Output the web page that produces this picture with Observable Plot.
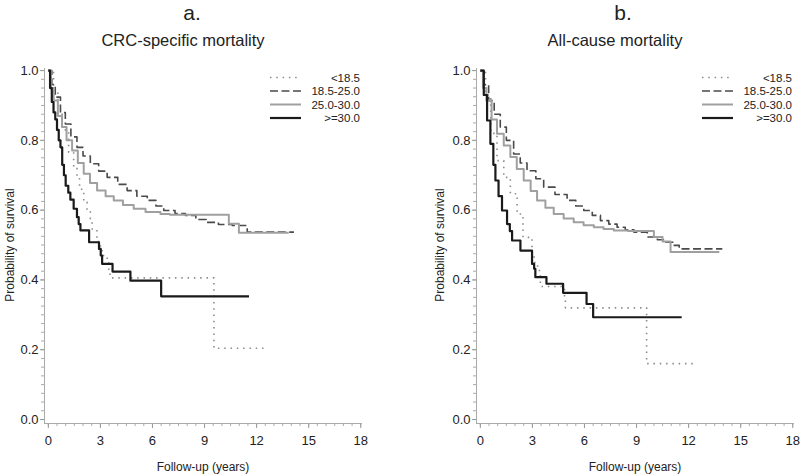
<!DOCTYPE html>
<html>
<head>
<meta charset="utf-8">
<script src="https://cdn.jsdelivr.net/npm/d3@7"></script>
<script src="https://cdn.jsdelivr.net/npm/@observablehq/plot@0.6"></script>
<style>
  body { margin: 0; background: #fff; }
  #root { position: relative; width: 800px; height: 475px; overflow: hidden; font-family: "Liberation Sans", Arial, sans-serif; color: #222; }
  .panel { position: absolute; top: 0; width: 400px; height: 475px; }
  .txt { position: absolute; white-space: nowrap; transform: translate(-50%, -50%); }
  .plot { position: absolute; top: 55px; left: 0; }
  .legend { position: absolute; top: 0; left: 0; }
</style>
</head>
<body>
<div id="root"></div>
<script>
// ---------- data (time in years, survival probability) ----------
const groups = ["<18.5", "18.5-25.0", "25.0-30.0", ">=30.0"];
const panelLetters = ["a.", "b."];
const panelTitles = ["CRC-specific mortality", "All-cause mortality"];
const xTicks = [0, 3, 6, 9, 12, 15, 18];
const yTicks = [0, 0.2, 0.4, 0.6, 0.8, 1.0];
const xLabel = "Follow-up (years)";
const yLabel = "Probability of survival";

// Panel a: CRC-specific mortality
const crcUnder185 = [[0,1],[0.3,0.94],[0.55,0.88],[0.8,0.83],[1.17,0.766],[1.46,0.72],[1.65,0.69],[1.8,0.66],[2.04,0.623],[2.23,0.6],[2.42,0.575],[2.52,0.546],[2.8,0.51],[3.0,0.494],[3.1,0.47],[3.39,0.456],[3.48,0.427],[3.55,0.406],[9.54,0.204],[12.42,0.204]];
const crc185to25 = [[0,1],[0.2,0.96],[0.4,0.924],[0.7,0.88],[0.98,0.847],[1.3,0.81],[1.65,0.78],[2.0,0.755],[2.42,0.733],[2.9,0.712],[3.39,0.694],[4.0,0.674],[4.54,0.656],[5.1,0.64],[5.7,0.628],[6.2,0.612],[6.65,0.599],[7.3,0.59],[7.9,0.585],[8.5,0.573],[9.1,0.565],[9.8,0.559],[10.6,0.556],[11.46,0.537],[14.15,0.537]];
const crc25to30 = [[0,1],[0.15,0.95],[0.31,0.914],[0.55,0.87],[0.79,0.838],[1.05,0.8],[1.37,0.771],[1.7,0.735],[2.04,0.704],[2.4,0.678],[2.81,0.656],[3.3,0.64],[3.77,0.628],[4.3,0.615],[4.92,0.604],[5.6,0.595],[6.46,0.589],[7.0,0.587],[10.4,0.561],[10.98,0.535],[13.85,0.535]];
const crcOver30 = [[0,1],[0.1,0.95],[0.2,0.91],[0.3,0.88],[0.4,0.86],[0.5,0.83],[0.6,0.8],[0.7,0.78],[0.8,0.73],[0.9,0.7],[1.0,0.67],[1.15,0.65],[1.27,0.63],[1.46,0.604],[1.65,0.58],[1.75,0.56],[1.85,0.542],[2.35,0.508],[2.92,0.489],[3.02,0.47],[3.1,0.446],[3.7,0.424],[4.73,0.398],[6.5,0.353],[11.56,0.353]];

// Panel b: All-cause mortality
const allUnder185 = [[0,1],[0.3,0.93],[0.6,0.82],[0.96,0.742],[1.35,0.694],[1.73,0.647],[2.12,0.589],[2.46,0.522],[2.98,0.475],[3.1,0.45],[3.3,0.427],[3.46,0.381],[4.85,0.346],[4.9,0.32],[9.58,0.16],[12.4,0.16]];
const all185to25 = [[0,1],[0.2,0.96],[0.48,0.914],[0.8,0.875],[1.15,0.838],[1.5,0.8],[1.92,0.761],[2.3,0.735],[2.69,0.713],[3.2,0.69],[3.65,0.666],[4.3,0.645],[5.0,0.628],[5.5,0.612],[5.96,0.599],[6.45,0.585],[6.92,0.57],[7.4,0.56],[7.88,0.551],[8.35,0.544],[8.85,0.537],[9.62,0.523],[10.2,0.515],[10.69,0.508],[11.1,0.499],[11.46,0.489],[13.94,0.489]];
const all25to30 = [[0,1],[0.15,0.95],[0.35,0.914],[0.65,0.86],[0.96,0.819],[1.35,0.785],[1.73,0.752],[2.1,0.718],[2.5,0.685],[2.9,0.655],[3.27,0.628],[3.75,0.607],[4.23,0.589],[4.8,0.576],[5.38,0.565],[5.95,0.557],[6.54,0.551],[7.1,0.546],[7.69,0.542],[8.5,0.54],[10.0,0.523],[10.5,0.51],[10.96,0.48],[13.77,0.48]];
const allOver30 = [[0,1],[0.2,0.93],[0.39,0.857],[0.58,0.79],[0.75,0.73],[0.87,0.685],[1.05,0.64],[1.25,0.599],[1.54,0.56],[1.7,0.54],[1.83,0.513],[2.31,0.484],[2.98,0.446],[3.1,0.432],[3.17,0.408],[3.81,0.389],[4.77,0.363],[6.12,0.331],[6.5,0.293],[11.6,0.293]];

const panelSeries = [
  [crcUnder185, crc185to25, crc25to30, crcOver30],
  [allUnder185, all185to25, all25to30, allOver30]
];

// ---------- styles ----------
const styles = {
  "<18.5":     {stroke: "#8c8c8c", width: 1.6, dash: "1.5,4.8"},
  "18.5-25.0": {stroke: "#4a4a4a", width: 1.6, dash: "8,3.5"},
  "25.0-30.0": {stroke: "#a0a0a0", width: 2, dash: null},
  ">=30.0":    {stroke: "#1a1a1a", width: 2.2, dash: null}
};

const xDomain = [-0.22, 18.1];
const yDomain = [-0.0115, 1.006];
const minorX = d3.range(0, 18.001, 0.5);
const minorY = d3.range(0, 1.0001, 0.025);

const panelLayout = [
  {left: 0,   marginLeft: 44, marginRight: 38, letterX: 192, titleX: 183, ylabX: 10, legSample: [270, 301], legTextEnd: 360},
  {left: 400, marginLeft: 76, marginRight: 6,  letterX: 223, titleX: 215, ylabX: 40, legSample: [302, 333], legTextEnd: 392}
];

const root = document.getElementById("root");

panelLayout.forEach((L, p) => {
  const div = document.createElement("div");
  div.className = "panel";
  div.style.left = L.left + "px";
  root.appendChild(div);

  const addText = (text, x, y, css) => {
    const t = document.createElement("div");
    t.className = "txt";
    t.textContent = text;
    t.style.left = x + "px";
    t.style.top = y + "px";
    Object.assign(t.style, css || {});
    div.appendChild(t);
  };

  const rows = [];
  groups.forEach((g, i) => {
    panelSeries[p][i].forEach(([t, s]) => rows.push({group: g, t, s}));
  });

  const lineMarks = groups.map(g => Plot.line(rows.filter(r => r.group === g), {
    x: "t", y: "s", curve: "step-after",
    stroke: styles[g].stroke, strokeWidth: styles[g].width,
    strokeDasharray: styles[g].dash, strokeLinecap: "butt"
  }));

  const chart = Plot.plot({
    width: 400,
    height: 420,
    marginTop: 13,
    marginBottom: 52,
    marginLeft: L.marginLeft,
    marginRight: L.marginRight,
    style: {fontFamily: "'Liberation Sans', Arial, sans-serif", fontSize: "13px", color: "#222", background: "transparent"},
    x: {domain: xDomain, label: null},
    y: {domain: yDomain, label: null},
    marks: [
      Plot.axisX({ticks: minorX, tickSize: 3, tickFormat: () => "", stroke: "#aaa", label: null}),
      Plot.axisY({ticks: minorY, tickSize: 3, tickFormat: () => "", stroke: "#aaa", label: null}),
      Plot.axisX({ticks: xTicks, tickSize: 5, tickPadding: 7, tickFormat: d3.format("d"), stroke: "#999", fill: "#222", fontSize: 13, label: null}),
      Plot.axisY({ticks: yTicks, tickSize: 4, tickPadding: 2, tickFormat: d3.format(".1f"), stroke: "#999", fill: "#222", fontSize: 13, label: null}),
      Plot.ruleX([xDomain[0]], {stroke: "#aaa"}),
      Plot.ruleY([yDomain[0]], {stroke: "#aaa"}),
      ...lineMarks
    ]
  });
  chart.classList.add("plot");
  div.appendChild(chart);

  // titles and axis labels
  addText(panelLetters[p], L.letterX, 13, {fontSize: "21px"});
  addText(panelTitles[p], L.titleX, 40, {fontSize: "16.5px"});
  addText(xLabel, L.marginLeft + (400 - L.marginLeft - L.marginRight) / 2, 467, {fontSize: "12px"});
  addText(yLabel, L.ylabX, 245, {fontSize: "12px", transform: "translate(-50%, -50%) rotate(-90deg)"});

  // legend (inside plot, top-right)
  const leg = d3.select(div).append("svg")
    .attr("class", "legend")
    .attr("width", 400).attr("height", 130);
  groups.forEach((g, i) => {
    const y = 77.5 + i * 13.5;
    leg.append("line")
      .attr("x1", L.legSample[0]).attr("x2", L.legSample[1])
      .attr("y1", y).attr("y2", y)
      .attr("stroke", styles[g].stroke)
      .attr("stroke-width", styles[g].width)
      .attr("stroke-dasharray", styles[g].dash);
    leg.append("text")
      .attr("x", L.legTextEnd).attr("y", y)
      .attr("dy", "0.35em")
      .attr("text-anchor", "end")
      .attr("font-size", 11.5)
      .attr("fill", "#222")
      .attr("font-family", "'Liberation Sans', Arial, sans-serif")
      .text(g);
  });
});
</script>
</body>
</html>
